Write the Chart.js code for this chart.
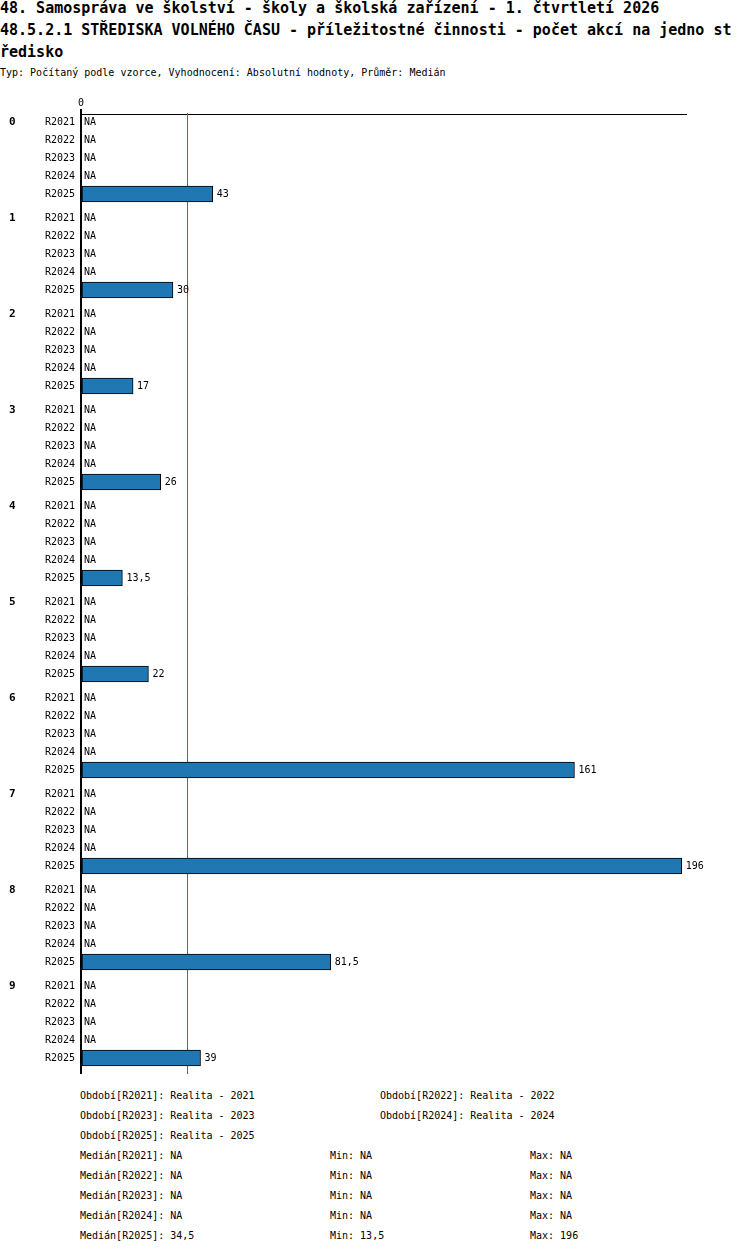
<!DOCTYPE html>
<html>
<head>
<meta charset="utf-8">
<script src="https://cdn.jsdelivr.net/npm/chart.js@4/dist/chart.umd.min.js"></script>
<style>
  body { margin: 0; background: #fff; color: #000; font-family: "DejaVu Sans Mono", monospace; }
  #head { position: absolute; left: 0; top: -3px; width: 735px; }
  .t { font-size: 15px; font-weight: bold; line-height: 22px; word-break: break-all; }
  .typ { font-size: 10px; line-height: 20px; }
  #wrap { position: absolute; left: 0; top: 95px; width: 750px; height: 979px; }
  #foot { position: absolute; left: 0; top: 1086px; width: 750px; font-size: 10px; }
  .r { position: relative; height: 20px; line-height: 20px; }
  .r span { position: absolute; white-space: pre; }
</style>
</head>
<body>
<div id="head">
  <div class="t">48. Samospráva ve školství - školy a školská zařízení - 1. čtvrtletí 2026</div>
  <div class="t">48.5.2.1 STŘEDISKA VOLNÉHO ČASU - příležitostné činnosti - počet akcí na jedno středisko</div>
  <div class="typ">Typ: Počítaný podle vzorce, Vyhodnocení: Absolutní hodnoty, Průměr: Medián</div>
</div>
<div id="wrap"><canvas id="graf"></canvas></div>
<div id="foot"></div>
<script>
  // === Data ===
  const skupiny = ["0", "1", "2", "3", "4", "5", "6", "7", "8", "9"];
  const obdobi = ["R2021", "R2022", "R2023", "R2024", "R2025"];
  const popisObdobi = ["Realita - 2021", "Realita - 2022", "Realita - 2023", "Realita - 2024", "Realita - 2025"];
  const r2021 = [null, null, null, null, null, null, null, null, null, null];
  const r2022 = [null, null, null, null, null, null, null, null, null, null];
  const r2023 = [null, null, null, null, null, null, null, null, null, null];
  const r2024 = [null, null, null, null, null, null, null, null, null, null];
  const r2025 = [43, 30, 17, 26, 13.5, 22, 161, 196, 81.5, 39];
  const hodnoty = [r2021, r2022, r2023, r2024, r2025];
  const osaX = [0];

  const modra = "#1f77b4";
  const cara = "#3f6f99";
  const pismo = "DejaVu Sans Mono";

  // pozice radku: skupina po 5 obdobich + mezera 1/3 radku
  const krok = obdobi.length + 1 / 3;
  const pozice = (g, p) => g * krok + p;

  const fmt = v => String(v).replace(".", ",");

  function median(a) {
    const s = a.filter(v => v !== null).sort((x, y) => x - y);
    if (!s.length) return null;
    const m = Math.floor(s.length / 2);
    return s.length % 2 ? s[m] : (s[m - 1] + s[m]) / 2;
  }
  function minimum(a) { const s = a.filter(v => v !== null); return s.length ? Math.min(...s) : null; }
  function maximum(a) { const s = a.filter(v => v !== null); return s.length ? Math.max(...s) : null; }

  const medianVse = median(r2025);

  const datasets = obdobi.map((o, p) => ({
    label: o,
    data: hodnoty[p].map((v, g) => ({ x: v, y: pozice(g, p) })),
    backgroundColor: modra,
    borderColor: "#000",
    borderWidth: 1,
    borderSkipped: false,
    barThickness: 16,
    grouped: false
  }));

  // === Popisky, NA, median ===
  const popisky = {
    id: "popisky",
    beforeDatasetsDraw(chart) {
      const { ctx, chartArea, scales } = chart;
      if (medianVse === null) return;
      const x = Math.round(scales.x.getPixelForValue(medianVse)) + 0.5;
      ctx.save();
      ctx.strokeStyle = cara;
      ctx.lineWidth = 1;
      ctx.beginPath();
      ctx.moveTo(x, chartArea.top - 1);
      ctx.lineTo(x, chartArea.bottom);
      ctx.stroke();
      ctx.restore();
    },
    afterDatasetsDraw(chart) {
      const { ctx, scales } = chart;
      ctx.save();
      ctx.fillStyle = "#000";
      ctx.textBaseline = "middle";
      ctx.textAlign = "left";
      ctx.font = "10px '" + pismo + "'";
      hodnoty.forEach((rada, p) => {
        rada.forEach((v, g) => {
          const y = scales.y.getPixelForValue(pozice(g, p));
          if (v === null) {
            ctx.fillText("NA", scales.x.getPixelForValue(0) + 3, y);
          } else {
            ctx.fillText(fmt(v), scales.x.getPixelForValue(v) + 4, y);
          }
        });
      });
      ctx.font = "bold 11px '" + pismo + "'";
      skupiny.forEach((s, g) => {
        ctx.fillText(s, 9, scales.y.getPixelForValue(pozice(g, 0)));
      });
      ctx.restore();
    }
  };

  new Chart(document.getElementById("graf"), {
    type: "bar",
    data: { datasets },
    plugins: [popisky],
    options: {
      indexAxis: "y",
      responsive: true,
      maintainAspectRatio: false,
      animation: false,
      events: [],
      layout: { padding: { top: 0, right: 64, bottom: 0, left: 0 } },
      plugins: {
        legend: { display: false },
        tooltip: { enabled: false }
      },
      scales: {
        x: {
          type: "linear",
          position: "top",
          min: 0,
          max: 197.4,
          afterBuildTicks: s => { s.ticks = osaX.map(v => ({ value: v })); },
          afterFit: s => { s.height = 19; s.paddingLeft = 0; s.paddingRight = 0; },
          border: { display: true, color: "#000", width: 1 },
          grid: { drawOnChartArea: false, drawTicks: true, tickLength: 5, color: "#000", lineWidth: 2 },
          ticks: { padding: 0, color: "#000", font: { family: pismo, size: 10 } }
        },
        y: {
          type: "linear",
          reverse: true,
          offset: false,
          min: -8 / 18,
          max: pozice(skupiny.length - 1, obdobi.length - 1) + 16 / 18,
          afterBuildTicks: s => {
            const t = [];
            skupiny.forEach((_, g) => obdobi.forEach((_, p) => t.push({ value: pozice(g, p) })));
            s.ticks = t;
          },
          afterFit: s => { s.width = 81; s.paddingTop = 0; s.paddingBottom = 0; },
          border: { display: true, color: "#000", width: 2 },
          grid: { display: false, drawTicks: false, offset: false },
          ticks: {
            autoSkip: false,
            padding: 6,
            color: "#000",
            font: { family: pismo, size: 10 },
            callback: (v, i) => obdobi[i % obdobi.length]
          }
        }
      }
    }
  });

  // === Legenda pod grafem ===
  const foot = document.getElementById("foot");
  function radek(bunky) {
    const d = document.createElement("div");
    d.className = "r";
    bunky.forEach(([x, text]) => {
      const s = document.createElement("span");
      s.style.left = x + "px";
      s.textContent = text;
      d.appendChild(s);
    });
    foot.appendChild(d);
  }
  for (let i = 0; i < obdobi.length; i += 2) {
    const b = [[80, "Období[" + obdobi[i] + "]: " + popisObdobi[i]]];
    if (i + 1 < obdobi.length) b.push([380, "Období[" + obdobi[i + 1] + "]: " + popisObdobi[i + 1]]);
    radek(b);
  }
  const na = v => (v === null ? "NA" : fmt(v));
  obdobi.forEach((o, p) => {
    radek([
      [80, "Medián[" + o + "]: " + na(median(hodnoty[p]))],
      [330, "Min: " + na(minimum(hodnoty[p]))],
      [530, "Max: " + na(maximum(hodnoty[p]))]
    ]);
  });
</script>
</body>
</html>
